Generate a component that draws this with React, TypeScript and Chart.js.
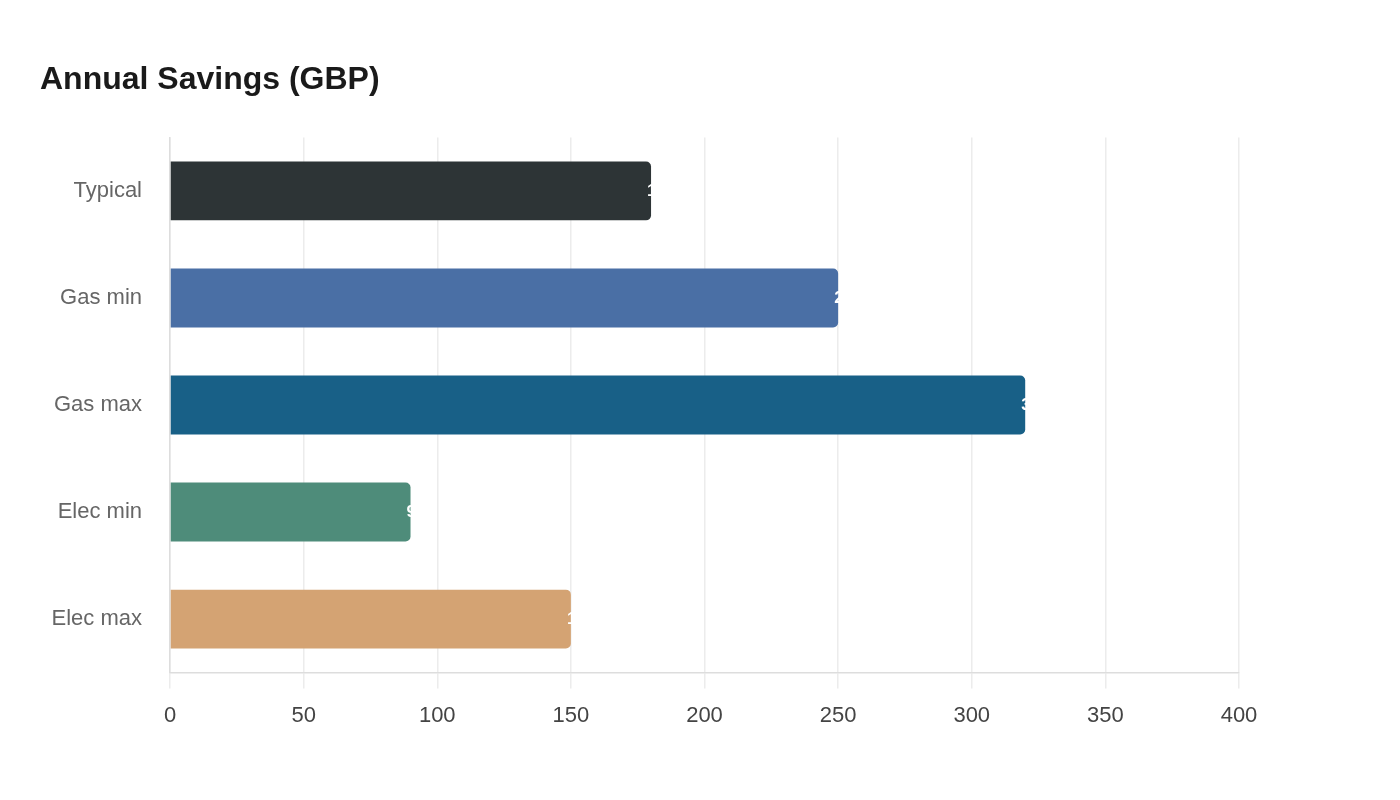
import React, { useEffect, useRef } from 'react';
import { Chart, registerables, Plugin } from 'chart.js';

Chart.register(...registerables);

const categories = ['Typical', 'Gas min', 'Gas max', 'Elec min', 'Elec max'];
const savings = [180, 250, 320, 90, 150];
const barColors = ['#2d3436', '#4a6fa5', '#186087', '#4e8c7a', '#d4a373'];
const xTicks = [0, 50, 100, 150, 200, 250, 300, 350, 400];

const FONT = '"Liberation Sans", Arial, Helvetica, sans-serif';

// value labels drawn at bar end (white, so only the part over the bar shows)
const barValueLabels: Plugin<'bar'> = {
  id: 'barValueLabels',
  afterDatasetsDraw(chart) {
    const ctx = chart.ctx;
    const meta = chart.getDatasetMeta(0);
    ctx.save();
    ctx.fillStyle = '#ffffff';
    ctx.font = `bold 17px ${FONT}`;
    ctx.textAlign = 'left';
    ctx.textBaseline = 'middle';
    meta.data.forEach((bar: any, i) => {
      ctx.fillText(String(savings[i]), bar.x - 4, bar.y);
    });
    ctx.restore();
  },
};

const App: React.FC = () => {
  const canvasRef = useRef<HTMLCanvasElement>(null);
  const chartRef = useRef<Chart | null>(null);

  useEffect(() => {
    document.body.style.margin = '0';
    if (!canvasRef.current) return;
    const ctx = canvasRef.current.getContext('2d');
    if (!ctx) return;

    chartRef.current = new Chart(ctx, {
      type: 'bar',
      data: {
        labels: categories,
        datasets: [
          {
            data: savings,
            backgroundColor: barColors,
            borderRadius: { topRight: 5, bottomRight: 5, topLeft: 0, bottomLeft: 0 },
            borderSkipped: false,
            barPercentage: 0.55,
            categoryPercentage: 1,
          },
        ],
      },
      options: {
        indexAxis: 'y',
        animation: false,
        responsive: true,
        maintainAspectRatio: false,
        layout: { padding: { left: 40, right: 161, top: 0, bottom: 57 } },
        plugins: {
          legend: { display: false },
          tooltip: { enabled: false },
          title: {
            display: true,
            text: 'Annual Savings (GBP)',
            align: 'start',
            color: '#1a1a1a',
            font: { family: FONT, size: 32, weight: 'bold' },
            padding: { top: 61, bottom: 38 },
          },
        },
        scales: {
          x: {
            min: 0,
            max: 400,
            afterBuildTicks: (scale) => {
              scale.ticks = xTicks.map((v) => ({ value: v }));
            },
            grid: { color: '#ececec', tickLength: 16, lineWidth: 1.5 },
            border: { color: '#dddddd', width: 1.5 },
            ticks: {
              color: '#444444',
              padding: 14,
              font: { family: FONT, size: 22 },
            },
          },
          y: {
            grid: { display: false, drawTicks: false },
            border: { display: true, color: '#dddddd', width: 1.5 },
            afterFit: (scale) => {
              scale.width = 130;
            },
            ticks: {
              color: '#666666',
              padding: 28,
              font: { family: FONT, size: 22 },
            },
          },
        },
      },
      plugins: [barValueLabels],
    });

    return () => {
      chartRef.current?.destroy();
      chartRef.current = null;
    };
  }, []);

  return (
    <div style={{ width: 1400, height: 800, position: 'relative', background: '#fff' }}>
      <canvas ref={canvasRef} />
    </div>
  );
};

export default App;
